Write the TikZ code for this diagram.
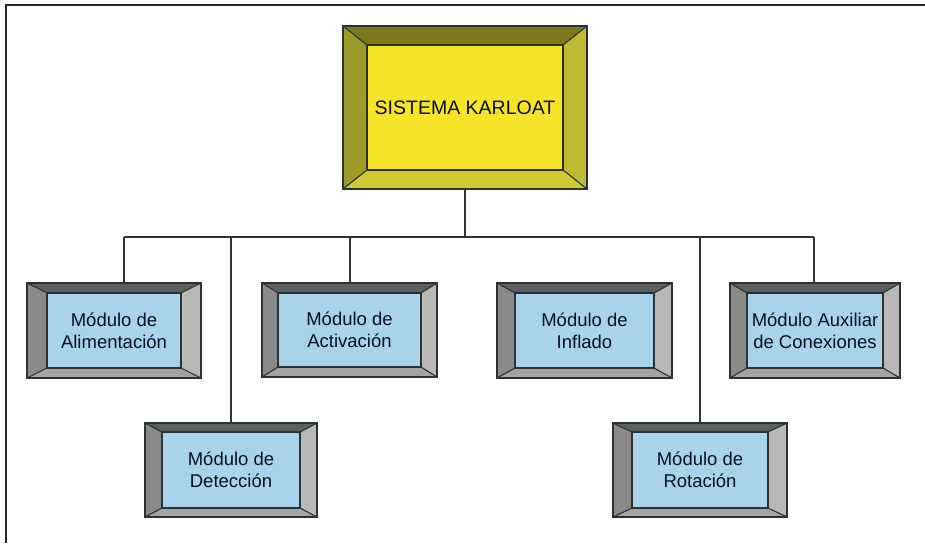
\documentclass[tikz,border=0pt]{standalone}
\usepackage{fontspec}
\setmainfont{Liberation Sans}
\definecolor{ytop}{HTML}{7D7A1E}
\definecolor{yleft}{HTML}{9C9A28}
\definecolor{yright}{HTML}{BDBB32}
\definecolor{ybot}{HTML}{CFCB2E}
\definecolor{yin}{HTML}{F5E428}
\definecolor{gtop}{HTML}{5C6060}
\definecolor{gleft}{HTML}{8A8A8A}
\definecolor{gright}{HTML}{B8B8B8}
\definecolor{gbot}{HTML}{A4A4A4}
\definecolor{gin}{HTML}{A9D3EA}
\definecolor{edge}{HTML}{2A3234}
\definecolor{txt}{HTML}{0A1020}
\definecolor{wire}{HTML}{333333}
\newcommand{\bevelbox}[9]{%
  \fill[#8top] (#2,#3) -- (#4,#3) -- (#4-#6,#3+#7) -- (#2+#6,#3+#7) -- cycle;
  \fill[#8bot] (#2,#5) -- (#4,#5) -- (#4-#6,#5-#7) -- (#2+#6,#5-#7) -- cycle;
  \fill[#8left] (#2,#3) -- (#2+#6,#3+#7) -- (#2+#6,#5-#7) -- (#2,#5) -- cycle;
  \fill[#8right] (#4,#3) -- (#4-#6,#3+#7) -- (#4-#6,#5-#7) -- (#4,#5) -- cycle;
  \fill[#8in] (#2+#6,#3+#7) rectangle (#4-#6,#5-#7);
  \draw[bevline] (#2+#6,#3+#7) rectangle (#4-#6,#5-#7);
  \draw[bevline] (#2,#3) -- (#2+#6,#3+#7) (#4,#3) -- (#4-#6,#3+#7)
                 (#2,#5) -- (#2+#6,#5-#7) (#4,#5) -- (#4-#6,#5-#7);
  \node[boxnode, minimum width={(#4-#2)*1pt}, minimum height={(#5-#3)*1pt}]
    (#1) at ({(#2+#4)/2},{(#3+#5)/2}) {#9};
}
\begin{document}
\begin{tikzpicture}[x=1pt,y=-1pt,
  bevline/.style={draw=edge, line width=1.1pt},
  boxnode/.style={draw=edge, line width=1.4pt, inner sep=0pt, outer sep=0pt,
    align=center, text=txt, font=\fontsize{18.5}{22}\selectfont},
  wireline/.style={draw=wire, line width=2pt}]
\useasboundingbox (0,0) rectangle (925,543);
\draw[line width=2.2pt, draw=black!85] (6,543) -- (6,5) -- (925,5);

\bevelbox{main}{343}{26}{587}{189}{24}{19}{y}{\fontsize{19.5}{23}\selectfont SISTEMA KARLOAT}
\bevelbox{ali}{27}{283}{201}{378}{20}{10}{g}{Módulo de\\Alimentación}
\bevelbox{act}{262}{283}{437}{377}{16}{10}{g}{Módulo de\\Activación}
\bevelbox{inf}{497}{283}{672}{378}{18}{10}{g}{Módulo de\\Inflado}
\bevelbox{aux}{730}{283}{900}{378}{17}{10}{g}{Módulo Auxiliar\\de Conexiones}
\bevelbox{det}{145}{423}{317}{517}{17}{9}{g}{Módulo de\\Detección}
\bevelbox{rot}{613}{423}{787}{517}{19}{9}{g}{Módulo de\\Rotación}

\coordinate (busL) at (124,237);
\coordinate (busR) at (814,237);
\draw[wireline] (main.south) -- (main.south |- busL);
\draw[wireline] (busL) -- (busR);
\draw[wireline] (busL) -- (busL |- ali.north);
\draw[wireline] (det.north) -- (det.north |- busL);
\draw[wireline] (act.north) -- (act.north |- busL);
\draw[wireline] (rot.north) -- (rot.north |- busL);
\draw[wireline] (busR) -- (busR |- aux.north);
\end{tikzpicture}
\end{document}
